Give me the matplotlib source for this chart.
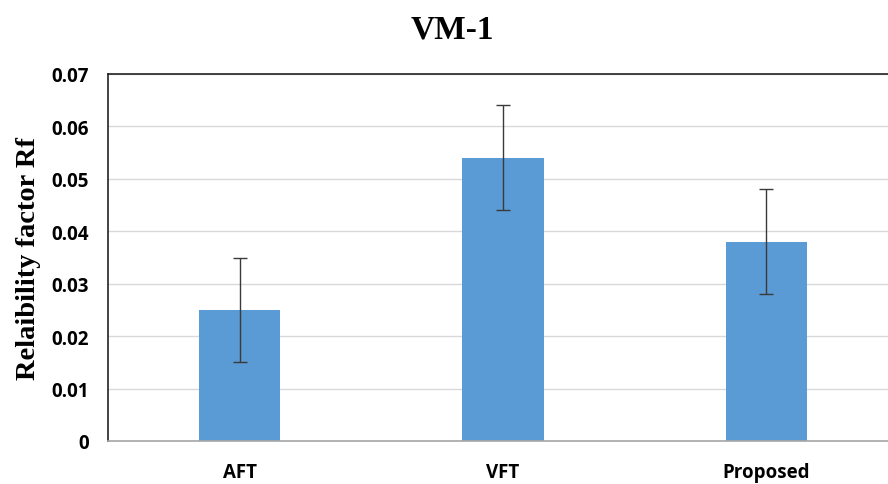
import numpy as np
import matplotlib.pyplot as plt

#%% data
methods = ["AFT", "VFT", "Proposed"]
rf_values = [0.025, 0.054, 0.038]
rf_errors = [0.010, 0.010, 0.010]
y_ticks = [0, 0.01, 0.02, 0.03, 0.04, 0.05, 0.06, 0.07]
y_tick_labels = ["0", "0.01", "0.02", "0.03", "0.04", "0.05", "0.06", "0.07"]

#%% plot
fig = plt.figure(figsize=(8.88, 4.85), dpi=100)
ax = fig.add_axes([108/888, 1 - 442/485, 790/888, 367/485])

x = np.arange(len(methods))
ax.bar(x, rf_values, width=0.31, color="#5B9BD5", zorder=2)
ax.errorbar(x, rf_values, yerr=rf_errors, fmt="none", ecolor="#3a3a3a",
            elinewidth=1.0, capsize=5, capthick=1.0, zorder=3)

ax.set_xlim(-0.5, 2.5)
ax.set_ylim(0, 0.07)
ax.set_yticks(y_ticks)
ax.set_yticklabels(y_tick_labels)
ax.set_xticks(x)
ax.set_xticklabels(methods)
ax.yaxis.grid(True, color="#d9d9d9", linewidth=1.0, zorder=0)
ax.set_axisbelow(True)

for lab in ax.get_xticklabels() + ax.get_yticklabels():
    lab.set_fontfamily("Open Sans")
    lab.set_fontweight("bold")
    lab.set_fontsize(13.5)
ax.tick_params(axis="both", length=0)
ax.tick_params(axis="x", pad=15)
ax.tick_params(axis="y", pad=14)

ax.spines["left"].set_color("#222222")
ax.spines["top"].set_color("#222222")
ax.spines["bottom"].set_color("#a6a6a6")
ax.spines["right"].set_visible(False)
for s in ["left", "top", "bottom"]:
    ax.spines[s].set_linewidth(1.2)

ax.set_ylabel("Relaibility factor Rf", fontfamily="Liberation Serif",
              fontweight="bold", fontsize=20.5, labelpad=7)
fig.text(452/888, 1 - 30/485, "VM-1", ha="center", va="center",
         fontfamily="Liberation Serif", fontweight="bold", fontsize=24)

plt.savefig("out.png", dpi=100)
